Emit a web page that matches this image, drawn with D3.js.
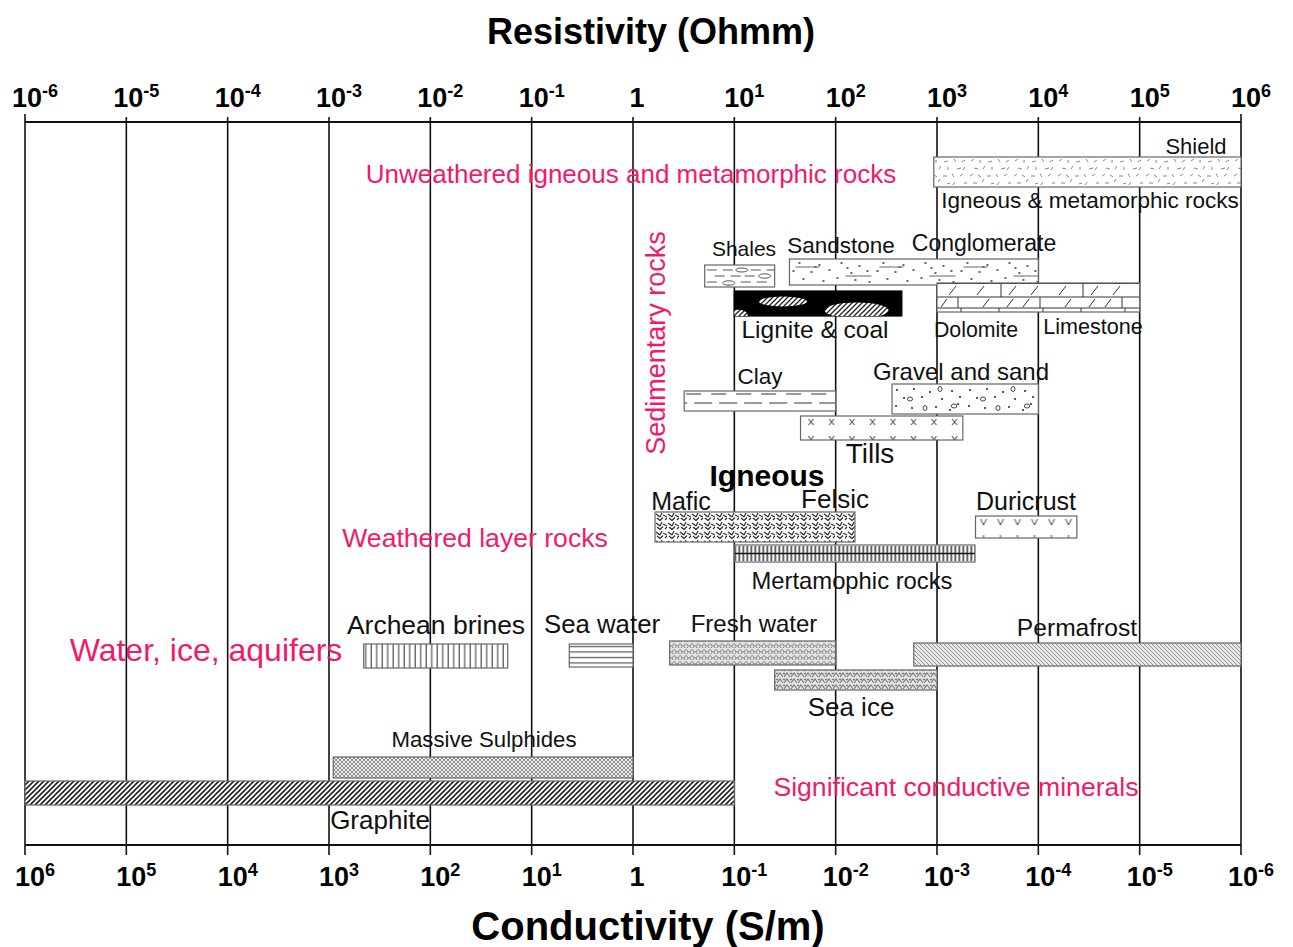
<!DOCTYPE html>
<html>
<head>
<meta charset="utf-8">
<script src="https://cdn.jsdelivr.net/npm/d3@7"></script>
<style>
  body { margin: 0; background: #fff; }
  text { font-family: "Liberation Sans", Arial, sans-serif; }
</style>
</head>
<body>
<div id="chart"></div>
<script>
// decades of the resistivity axis (Ohm m)
const decades = [-6, -5, -4, -3, -2, -1, 0, 1, 2, 3, 4, 5, 6];
const topLabels = ["10|-6", "10|-5", "10|-4", "10|-3", "10|-2", "10|-1", "1", "10|1", "10|2", "10|3", "10|4", "10|5", "10|6"];
const bottomLabels = ["10|6", "10|5", "10|4", "10|3", "10|2", "10|1", "1", "10|-1", "10|-2", "10|-3", "10|-4", "10|-5", "10|-6"];

// material ranges in resistivity (Ohm m)
const materials = ["Shield", "Shales", "Sandstone", "Lignite", "Limestone", "Clay", "Gravel", "Tills",
  "Mafic", "Duricrust", "Metamorphic", "Brines", "SeaWater", "FreshWater", "SeaIce", "Permafrost",
  "Sulphides", "Graphite"];
const resMin = [930, 5.1, 35, 10, 1000, 3.2, 360, 45, 1.65, 2400, 10, 0.0022, 0.235, 2.3, 25, 590, 0.0011, 1e-6];
const resMax = [1e6, 25, 1e4, 450, 1e5, 100, 1e4, 1800, 155, 24000, 2370, 0.058, 1, 100, 1000, 1e6, 1, 10];

// layout: row top / height (px) and fill for each material
const layout = {
  Shield: {y: 157, h: 30, fill: "url(#pIgn)"},
  Shales: {y: 265, h: 22, fill: "url(#pShale)"},
  Sandstone: {y: 259, h: 26, fill: "url(#pSand)"},
  Lignite: {y: 291, h: 25, fill: "#000"},
  Limestone: {y: 283, h: 29, fill: "url(#pLime)"},
  Clay: {y: 391, h: 20, fill: "url(#pClay)"},
  Gravel: {y: 384, h: 30, fill: "url(#pGravel)"},
  Tills: {y: 416, h: 24, fill: "url(#pTills)"},
  Mafic: {y: 512, h: 30, fill: "url(#pMafic)"},
  Duricrust: {y: 516, h: 22, fill: "url(#pDuri)"},
  Metamorphic: {y: 545, h: 17, fill: "url(#pMeta)"},
  Brines: {y: 644, h: 24, fill: "url(#pVert)"},
  SeaWater: {y: 644, h: 23, fill: "url(#pHoriz)"},
  FreshWater: {y: 641, h: 24, fill: "url(#pWeave)"},
  SeaIce: {y: 670, h: 20, fill: "url(#pWeave2)"},
  Permafrost: {y: 643, h: 23, fill: "url(#pPerma)"},
  Sulphides: {y: 757, h: 21, fill: "url(#pCross)"},
  Graphite: {y: 781, h: 24, fill: "url(#pDiag)"}
};

// annotations
const labels = [
  {t: "Shield", x: 1196, y: 154, s: 22},
  {t: "Igneous & metamorphic rocks", x: 1090, y: 208, s: 22.5},
  {t: "Shales", x: 744, y: 256, s: 21},
  {t: "Sandstone", x: 841, y: 253, s: 22.5},
  {t: "Conglomerate", x: 984, y: 251, s: 23},
  {t: "Lignite & coal", x: 815, y: 338, s: 24.5},
  {t: "Dolomite", x: 976, y: 337, s: 21.3},
  {t: "Limestone", x: 1093, y: 334, s: 21.6},
  {t: "Clay", x: 760, y: 384, s: 22.5},
  {t: "Gravel and sand", x: 961, y: 380, s: 24},
  {t: "Tills", x: 870, y: 463, s: 28},
  {t: "Mafic", x: 681, y: 510, s: 25},
  {t: "Felsic", x: 835, y: 508, s: 26},
  {t: "Duricrust", x: 1026, y: 510, s: 25},
  {t: "Mertamophic rocks", x: 852, y: 589, s: 23.8},
  {t: "Archean brines", x: 436, y: 634, s: 26.5},
  {t: "Sea water", x: 602, y: 633, s: 25.8},
  {t: "Fresh water", x: 754, y: 632, s: 24},
  {t: "Permafrost", x: 1077, y: 636, s: 24.6},
  {t: "Sea ice", x: 851, y: 716, s: 26},
  {t: "Massive Sulphides", x: 484, y: 747, s: 22.2},
  {t: "Graphite", x: 380, y: 829, s: 26}
];
const groupLabels = [
  {t: "Unweathered igneous and metamorphic rocks", x: 631, y: 183, s: 26},
  {t: "Weathered layer rocks", x: 475, y: 547, s: 26.6},
  {t: "Water, ice, aquifers", x: 206, y: 661, s: 32},
  {t: "Significant conductive minerals", x: 956, y: 796, s: 26.6}
];

const W = 1293, H = 947;
const yTop = 122, yBottom = 845;
const pink = "#f2196c";

const svg = d3.select("#chart").append("svg")
  .attr("width", W).attr("height", H);

const x = d3.scaleLog().domain([1e-6, 1e6]).range([25, 1241]);

// ---------- patterns ----------
const defs = svg.append("defs");
function pat(id, w, h) {
  const p = defs.append("pattern").attr("id", id)
    .attr("patternUnits", "userSpaceOnUse").attr("width", w).attr("height", h);
  p.append("rect").attr("width", w).attr("height", h).attr("fill", "#fff");
  return p;
}
function paths(p, d, stroke, sw) {
  p.append("path").attr("d", d).attr("fill", "none")
    .attr("stroke", stroke).attr("stroke-width", sw);
}
// igneous: scattered strokes
let p = pat("pIgn", 44, 30).attr("y", 157);
paths(p, "M3,4l3,-2 M12,3l0,3 M20,5l4,-1 M30,2l2,3 M38,5l3,-2 M6,11l4,1 M15,12l2,-3 M24,10l0,3 M33,12l4,-1 M41,10l-2,3 M2,19l3,-2 M10,18l3,2 M19,19l4,0 M28,17l2,3 M36,19l3,-2 M5,26l4,0 M14,25l2,-3 M23,27l3,-1 M31,25l-2,3 M40,26l3,0", "#888", 1);
// shales
p = pat("pShale", 70, 22).attr("x", x(5.1)).attr("y", 265);
paths(p, "M2,5h10 M18,5h10 M46,5h10 M62,5h8 M10,11h10 M26,11h10 M40,11h10 M2,17h10 M36,17h10 M52,17h10", "#555", 1);
p.append("ellipse").attr("cx", 37).attr("cy", 5).attr("rx", 6).attr("ry", 2).attr("fill", "none").attr("stroke", "#555");
p.append("ellipse").attr("cx", 60).attr("cy", 11).attr("rx", 6).attr("ry", 2.2).attr("fill", "none").attr("stroke", "#555");
p.append("ellipse").attr("cx", 24).attr("cy", 18).attr("rx", 6).attr("ry", 2.2).attr("fill", "none").attr("stroke", "#555");
// sandstone
p = pat("pSand", 84, 26).attr("x", x(35)).attr("y", 259);
[[10,4],[30,6],[52,4],[70,7],[4,12],[22,13],[40,11],[62,14],[78,12],[14,20],[34,22],[48,19],[66,21],[80,23],[26,8],[58,9]]
  .forEach(d => p.append("circle").attr("cx", d[0]).attr("cy", d[1]).attr("r", 1).attr("fill", "#333"));
paths(p, "M6,8h24 M56,17h26", "#666", 1);
// limestone bricks
p = pat("pLime", 82, 29).attr("x", x(1000)).attr("y", 283);
paths(p, "M0,0.5h82 M0,14h82 M0,25h82 M64,0.5v13.5 M21,14v11 M62,25v4 M24,25v4 M12,12l7,-9 M40,12l7,-9 M72,12l7,-9 M4,24l6,-8 M46,24l6,-8 M70,24l6,-8", "#333", 1);
// clay
p = pat("pClay", 25, 20).attr("x", x(3.2)).attr("y", 391);
paths(p, "M2,3h15 M10,12h15 M0,12h3", "#333", 1.2);
// gravel
p = pat("pGravel", 73, 30).attr("x", x(360)).attr("y", 384);
[[5,6],[22,5],[38,8],[60,7],[12,14],[30,13],[50,15],[68,13],[4,22],[20,24],[44,23],[58,26],[66,20]]
  .forEach(d => p.append("circle").attr("cx", d[0]).attr("cy", d[1]).attr("r", 1.1).attr("fill", "#333"));
[[18,15,2.5,2],[48,5,2,2.5],[62,22,2.8,2],[33,24,2,2.5]]
  .forEach(d => p.append("ellipse").attr("cx", d[0]).attr("cy", d[1]).attr("rx", d[2]).attr("ry", d[3]).attr("fill", "none").attr("stroke", "#444"));
// tills
p = pat("pTills", 20.5, 24).attr("x", x(45)).attr("y", 416);
paths(p, "M8,3l5,6 M13,3l-5,6 M8,20l2.5,4 M13,20l-2.5,4", "#444", 1);
// mafic
p = pat("pMafic", 12, 9).attr("x", x(1.65)).attr("y", 512);
paths(p, "M1,2l4,3 M7,1l-2,4 M8,3l4,2 M2,6l3,2.5 M8,5.5l-3,3 M10,8l2,-2", "#222", 1.1);
// duricrust
p = pat("pDuri", 17, 22).attr("x", x(2400)).attr("y", 516);
paths(p, "M5,3l3,6l3,-6 M8,19v3", "#444", 1);
// metamorphic
p = pat("pMeta", 4, 17).attr("x", x(10)).attr("y", 545);
paths(p, "M1,1v15 M0,8.5h4", "#111", 1.3);
// verticals
p = pat("pVert", 5.5, 24).attr("x", x(0.0022));
paths(p, "M2,0v24", "#333", 1);
// horizontals
p = pat("pHoriz", 10, 5.5).attr("y", 644);
paths(p, "M0,2.5h10", "#333", 1);
// weave
p = pat("pWeave", 6, 6);
p.select("rect").attr("fill", "#e4e4e4");
paths(p, "M0,4c1.5,-3 3,-3 4,0 M3,6c1.5,-3 3,-3 4,0 M-3,6c1.5,-3 3,-3 4,0", "#777", 1);
p = pat("pWeave2", 7, 6);
p.select("rect").attr("fill", "#e4e4e4");
paths(p, "M0,5l3,-4l3,4 M0,1l1,1 M6,1l1,1", "#777", 1.1);
// permafrost
p = pat("pPerma", 4, 4);
p.select("rect").attr("fill", "#eaeaea");
paths(p, "M0,0l4,4 M-1,3l2,2 M3,-1l2,2", "#888", 0.9);
// crosshatch
p = pat("pCross", 4, 4);
p.select("rect").attr("fill", "#eee");
paths(p, "M0,0l4,4 M4,0l-4,4", "#777", 0.8);
// graphite diagonal
p = pat("pDiag", 5, 5);
paths(p, "M-1,1l2,-2 M0,5l5,-5 M4,6l2,-2", "#222", 1.6);

// ---------- frame ----------
const g = svg.append("g");
g.selectAll("line.dec").data(decades).join("line")
  .attr("x1", d => x(Math.pow(10, d))).attr("x2", d => x(Math.pow(10, d)))
  .attr("y1", (d, i) => yTop - (i === 0 || i === 12 ? 8 : 5)).attr("y2", yBottom + 10)
  .attr("stroke", "#111").attr("stroke-width", 1.6);
g.append("line").attr("x1", x(1e-6)).attr("x2", x(1e6)).attr("y1", yTop).attr("y2", yTop)
  .attr("stroke", "#111").attr("stroke-width", 2);
g.append("line").attr("x1", x(1e-6)).attr("x2", x(1e6)).attr("y1", yBottom).attr("y2", yBottom)
  .attr("stroke", "#111").attr("stroke-width", 2);

// tick labels with superscripts
function tickLabel(sel, lab, ys) {
  sel.selectAll("text").data(lab).join("text")
    .attr("x", (d, i) => x(Math.pow(10, decades[i])) + (d === "1" ? 4 : 10))
    .attr("y", ys)
    .attr("text-anchor", "middle")
    .attr("font-size", 27).attr("font-weight", "bold")
    .each(function(d) {
      const parts = d.split("|");
      const t = d3.select(this);
      t.append("tspan").text(parts[0]);
      if (parts[1]) t.append("tspan").attr("dy", -10).attr("font-size", 18).text(parts[1]);
    });
}
tickLabel(svg.append("g"), topLabels, 107);
tickLabel(svg.append("g"), bottomLabels, 886);

// titles
svg.append("text").attr("x", 651).attr("y", 44).attr("text-anchor", "middle")
  .attr("font-size", 36).attr("font-weight", "bold").text("Resistivity (Ohmm)");
svg.append("text").attr("x", 648).attr("y", 940).attr("text-anchor", "middle")
  .attr("font-size", 40).attr("font-weight", "bold").text("Conductivity (S/m)");

// ---------- bars ----------
const bars = materials.map((m, i) => ({name: m, lo: resMin[i], hi: resMax[i]}));
svg.append("g").selectAll("rect").data(bars).join("rect")
  .attr("x", d => x(d.lo))
  .attr("y", d => layout[d.name].y)
  .attr("width", d => x(d.hi) - x(d.lo))
  .attr("height", d => layout[d.name].h)
  .attr("fill", d => layout[d.name].fill)
  .attr("stroke", d => d.name === "Lignite" ? "#000" : "#666")
  .attr("stroke-width", 1.2);

// lignite lenses
const lig = bars.find(d => d.name === "Lignite");
const lx0 = x(lig.lo), lw = x(lig.hi) - lx0, ly = layout.Lignite.y, lh = layout.Lignite.h;
defs.append("clipPath").attr("id", "ligClip").append("rect")
  .attr("x", lx0).attr("y", ly).attr("width", lw).attr("height", lh);
const lensPat = pat("pLens", 5, 5);
paths(lensPat, "M-1,1l2,-2 M0,5l5,-5 M4,6l2,-2", "#222", 1.3);
svg.append("g").attr("clip-path", "url(#ligClip)").selectAll("ellipse")
  .data([[0.29, 0.42, 24, 5], [0.73, 0.78, 32, 8], [0.02, 0.95, 10, 5]])
  .join("ellipse")
  .attr("cx", d => lx0 + d[0] * lw).attr("cy", d => ly + d[1] * lh)
  .attr("rx", d => d[2]).attr("ry", d => d[3]).attr("fill", "url(#pLens)");

// ---------- text ----------
svg.append("g").selectAll("text").data(labels).join("text")
  .attr("x", d => d.x).attr("y", d => d.y).attr("text-anchor", "middle")
  .attr("font-size", d => d.s).attr("fill", "#111").text(d => d.t);
svg.append("g").selectAll("text").data(groupLabels).join("text")
  .attr("x", d => d.x).attr("y", d => d.y).attr("text-anchor", "middle")
  .attr("font-size", d => d.s).attr("fill", pink).text(d => d.t);
svg.append("text").attr("transform", "translate(665,343) rotate(-90)")
  .attr("text-anchor", "middle").attr("font-size", 27).attr("fill", pink)
  .text("Sedimentary rocks");
svg.append("text").attr("x", 767).attr("y", 486).attr("text-anchor", "middle")
  .attr("font-size", 30).attr("font-weight", "bold").text("Igneous");
</script>
</body>
</html>
